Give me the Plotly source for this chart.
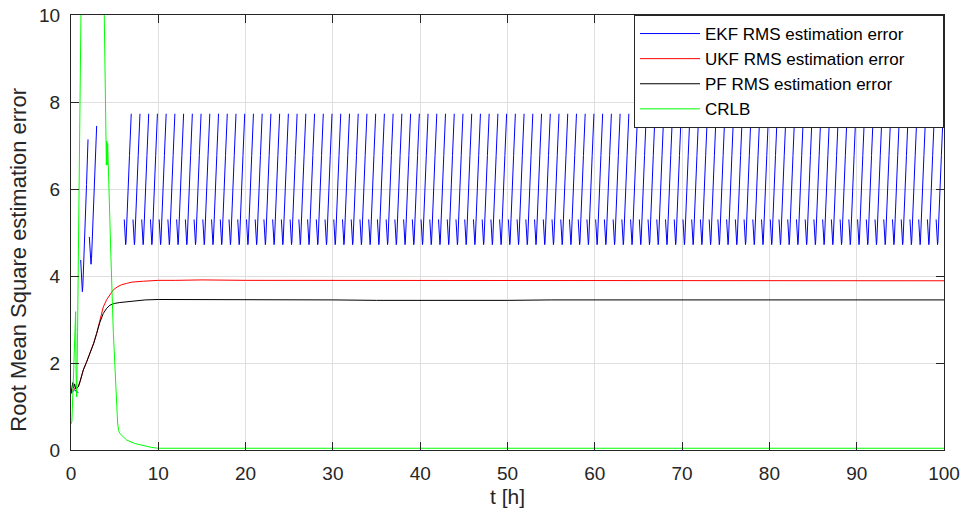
import plotly.graph_objects as go

# ---- EKF RMS error ----------------------------------------------------------
# start-up part (three separate pieces)
ekf_t0 = [0.0, 0.2, 0.4, 0.6, 0.85]
ekf_v0 = [1.30, 1.33, 1.38, 1.35, 1.32]
ekf_t1 = [1.11, 1.18, 1.24, 1.30, 1.36, 1.45, 1.60, 1.78, 1.95]
ekf_v1 = [4.37, 4.05, 3.78, 3.64, 3.78, 4.20, 5.00, 6.10, 7.14]
ekf_t2 = [2.10, 2.17, 2.23, 2.29, 2.35, 2.45, 2.60, 2.78, 2.94]
ekf_v2 = [4.90, 4.60, 4.38, 4.27, 4.40, 4.85, 5.65, 6.60, 7.45]
# steady periodic part: one cycle per hour (offset within the hour, value)
ekf_cycle_hours = list(range(6, 100))
ekf_cycle_off = [0.10, 0.14, 0.18, 0.22, 0.26, 0.30, 0.34, 0.40, 0.55, 0.70, 0.90]
ekf_cycle_val = [5.30, 5.00, 4.82, 4.74, 4.72, 4.78, 4.95, 5.30, 6.03, 6.77, 7.73]

# ---- UKF RMS error ----------------------------------------------------------
ukf_t = [0, 0.3, 0.6, 0.83, 1.03, 1.41, 1.8, 2.17, 2.6, 2.94, 3.3, 3.7, 4.1,
         4.5, 4.84, 5.3, 5.8, 6.37, 7.0, 8.3, 10, 12, 15, 20, 25, 30, 35, 40,
         45, 50, 55, 60, 65, 70, 75, 80, 85, 90, 95, 100]
ukf_v = [1.35, 1.40, 1.42, 1.45, 1.57, 1.84, 2.03, 2.22, 2.46, 2.68, 3.00,
         3.29, 3.46, 3.59, 3.68, 3.75, 3.80, 3.83, 3.86, 3.88, 3.90, 3.90,
         3.91, 3.90, 3.90, 3.90, 3.89, 3.90, 3.90, 3.89, 3.90, 3.90, 3.90,
         3.90, 3.89, 3.90, 3.90, 3.90, 3.90, 3.89]

# ---- PF RMS error -----------------------------------------------------------
pf_t = [0, 0.12, 0.2, 0.3, 0.42, 0.55, 0.7, 0.83, 1.03, 1.41, 1.8, 2.17, 2.6,
        2.94, 3.3, 3.7, 4.1, 4.46, 5.0, 5.6, 6.37, 7.5, 8.5, 10, 12, 15, 20,
        25, 30, 35, 40, 45, 50, 55, 60, 65, 70, 75, 80, 85, 90, 95, 100]
pf_v = [1.30, 1.45, 1.55, 1.42, 1.52, 1.40, 1.44, 1.45, 1.57, 1.84, 2.03,
        2.22, 2.45, 2.68, 2.93, 3.14, 3.26, 3.33, 3.37, 3.39, 3.41, 3.43,
        3.45, 3.46, 3.46, 3.46, 3.45, 3.46, 3.45, 3.44, 3.44, 3.43, 3.44,
        3.45, 3.45, 3.46, 3.45, 3.45, 3.46, 3.45, 3.45, 3.46, 3.45]

# ---- CRLB -------------------------------------------------------------------
crlb_t = [0, 0.1, 0.25, 0.4, 0.53, 0.58, 0.65, 0.75, 0.92, 1.14, 1.6, 2.2,
          2.8, 3.4, 3.81, 4.0, 4.05, 4.1, 4.15, 4.2, 4.27, 4.58, 4.85, 5.1,
          5.25, 5.34, 5.45, 5.6, 6.0, 6.37, 7.3, 8.3, 9.2, 10, 12, 20, 40,
          60, 80, 100]
crlb_v = [0.60, 0.65, 1.50, 2.20, 3.18, 1.80, 1.22, 2.70, 5.75, 10.0, 14.0,
          17.0, 16.5, 13.0, 10.0, 7.13, 6.55, 7.10, 6.55, 7.05, 6.50, 4.40,
          2.70, 1.60, 1.10, 0.62, 0.45, 0.38, 0.30, 0.23, 0.15, 0.10, 0.06,
          0.04, 0.04, 0.04, 0.04, 0.04, 0.04, 0.04]

# assemble the EKF curve, with breaks between the separate pieces
ekf_x, ekf_y = [], []
for tt, vv in ((ekf_t0, ekf_v0), (ekf_t1, ekf_v1), (ekf_t2, ekf_v2)):
    ekf_x += tt + [None]
    ekf_y += vv + [None]
for h in ekf_cycle_hours:
    ekf_x += [h + o for o in ekf_cycle_off] + [None]
    ekf_y += ekf_cycle_val + [None]

FONT = "Liberation Sans, Arial, Helvetica, sans-serif"
AX = "rgb(38,38,38)"
GRID = "rgb(223,223,223)"
PAD = "\u00a0" * 7  # right-hand breathing room inside the legend box

fig = go.Figure()
fig.add_trace(go.Scatter(x=ekf_x, y=ekf_y, mode="lines", connectgaps=False,
                         name="EKF RMS estimation error" + PAD,
                         line=dict(color="rgb(0,0,255)", width=1)))
fig.add_trace(go.Scatter(x=ukf_t, y=ukf_v, mode="lines",
                         name="UKF RMS estimation error" + PAD,
                         line=dict(color="rgb(255,0,0)", width=1)))
fig.add_trace(go.Scatter(x=pf_t, y=pf_v, mode="lines",
                         name="PF RMS estimation error",
                         line=dict(color="rgb(0,0,0)", width=1)))
fig.add_trace(go.Scatter(x=crlb_t, y=crlb_v, mode="lines",
                         name="CRLB",
                         line=dict(color="rgb(0,255,0)", width=1)))

axis_common = dict(
    showline=True, linecolor=AX, linewidth=1, mirror="ticks",
    ticks="inside", ticklen=8, tickwidth=1, tickcolor=AX,
    showgrid=True, gridcolor=GRID, gridwidth=1, zeroline=False,
    tickfont=dict(family=FONT, size=19, color=AX), automargin=False,
)

fig.update_layout(
    width=963, height=518,
    margin=dict(l=71, r=19, t=15, b=68, autoexpand=False),
    paper_bgcolor="white", plot_bgcolor="white",
    font=dict(family=FONT, color=AX),
    xaxis=dict(range=[0, 100], dtick=10, tick0=0,
               title=dict(text="t [h]", font=dict(family=FONT, size=21, color=AX),
                          standoff=6),
               ticklabelstandoff=6, **axis_common),
    yaxis=dict(range=[0, 10], dtick=2, tick0=0,
               ticklabelstandoff=6, **axis_common),
    legend=dict(x=1, y=1, xanchor="right", yanchor="top",
                bgcolor="white", bordercolor=AX, borderwidth=1,
                font=dict(family=FONT, size=17, color="black"),
                itemwidth=60, tracegroupgap=0),
    showlegend=True,
    annotations=[dict(
        text="Root Mean Square estimation error", textangle=-90,
        xref="paper", yref="paper", x=-0.0605, y=0.438,
        xanchor="center", yanchor="middle", showarrow=False,
        font=dict(family=FONT, size=22, color=AX),
    )],
)

fig.write_html("out.html")
